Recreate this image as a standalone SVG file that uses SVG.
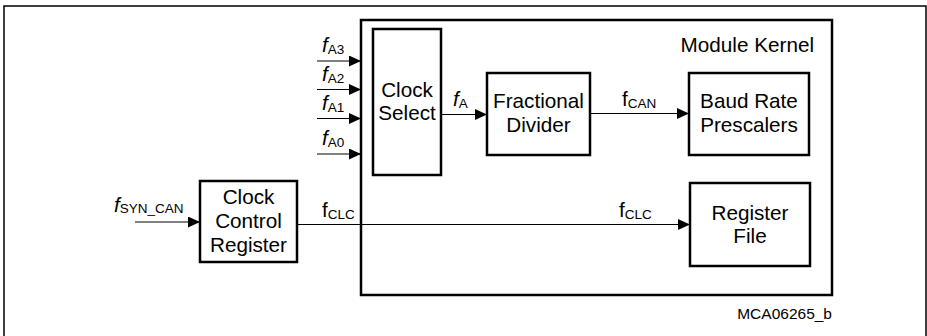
<svg xmlns="http://www.w3.org/2000/svg" width="927" height="336" viewBox="0 0 927 336">
<style>
text{font-family:"Liberation Sans",Arial,sans-serif;fill:#000}
.lbl{font-size:20.7px;text-anchor:middle}
.box{fill:#fff;stroke:#000;stroke-width:2.5}
.wire{fill:none;stroke:#000;stroke-width:1}
.sub{font-size:13.5px}
.it{font-style:italic}
</style>
<defs>
<marker id="ah" markerWidth="12" markerHeight="11" refX="12" refY="5.5" orient="auto" markerUnits="userSpaceOnUse">
<path d="M0,0 L12,5.5 L0,11 Z" fill="#000"/>
</marker>
</defs>
<rect x="4" y="6" width="922" height="336" fill="#fff" stroke="#000" stroke-width="1.5"/>
<g id="kernel">
<rect x="361" y="20" width="471" height="275" class="box"/>
<text x="814" y="52" font-size="20.7" text-anchor="end">Module Kernel</text>
</g>
<g id="clock-select">
<rect x="373" y="29" width="68" height="146" class="box"/>
<text class="lbl" x="407" y="97">Clock</text>
<text class="lbl" x="407" y="120">Select</text>
</g>
<g id="fractional-divider">
<rect x="487" y="73" width="103" height="82" class="box"/>
<text class="lbl" x="538.5" y="108">Fractional</text>
<text class="lbl" x="538.5" y="132">Divider</text>
</g>
<g id="baud-rate">
<rect x="689" y="73" width="120" height="82" class="box"/>
<text class="lbl" x="749" y="108">Baud Rate</text>
<text class="lbl" x="749" y="132">Prescalers</text>
</g>
<g id="register-file">
<rect x="690" y="183" width="120" height="83" class="box"/>
<text class="lbl" x="750" y="220">Register</text>
<text class="lbl" x="750" y="243">File</text>
</g>
<g id="clock-control">
<rect x="200" y="181" width="97" height="81" class="box"/>
<text class="lbl" x="248.5" y="204">Clock</text>
<text class="lbl" x="248.5" y="228">Control</text>
<text class="lbl" x="248.5" y="252">Register</text>
</g>
<g id="connectors">
<line class="wire" x1="317" y1="61" x2="361" y2="61" marker-end="url(#ah)"/>
<line class="wire" x1="317" y1="89.5" x2="361" y2="89.5" marker-end="url(#ah)"/>
<line class="wire" x1="317" y1="118.5" x2="361" y2="118.5" marker-end="url(#ah)"/>
<line class="wire" x1="317" y1="154" x2="361" y2="154" marker-end="url(#ah)"/>
<line class="wire" x1="441" y1="114.5" x2="487" y2="114.5" marker-end="url(#ah)"/>
<line class="wire" x1="590" y1="113.5" x2="689" y2="113.5" marker-end="url(#ah)"/>
<line class="wire" x1="135" y1="222" x2="200" y2="222" marker-end="url(#ah)"/>
<line class="wire" x1="297" y1="224.5" x2="690" y2="224.5" marker-end="url(#ah)"/>
</g>
<g id="labels">
<text x="322" y="52" font-size="20.7"><tspan class="it">f</tspan><tspan class="sub" dy="2">A3</tspan></text>
<text x="322" y="81" font-size="20.7"><tspan class="it">f</tspan><tspan class="sub" dy="2">A2</tspan></text>
<text x="322" y="110" font-size="20.7"><tspan class="it">f</tspan><tspan class="sub" dy="2">A1</tspan></text>
<text x="322" y="145" font-size="20.7"><tspan class="it">f</tspan><tspan class="sub" dy="2">A0</tspan></text>
<text x="453" y="106" font-size="20.7"><tspan class="it">f</tspan><tspan class="sub" dy="2">A</tspan></text>
<text x="622" y="106" font-size="20.7">f<tspan class="sub" dy="2">CAN</tspan></text>
<text x="114" y="212" font-size="20.7"><tspan class="it">f</tspan><tspan class="sub" dy="1">SYN_CAN</tspan></text>
<text x="322" y="217" font-size="20.7">f<tspan class="sub" dy="2">CLC</tspan></text>
<text x="619" y="217" font-size="20.7">f<tspan class="sub" dy="2">CLC</tspan></text>
<text x="832" y="319" font-size="15.5" text-anchor="end">MCA06265_b</text>
</g>
</svg>
